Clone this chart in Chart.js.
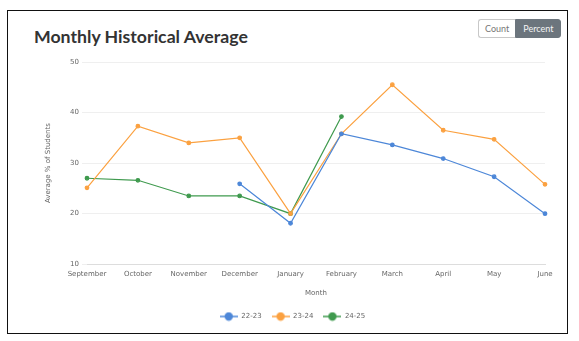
<!DOCTYPE html>
<html>
<head>
<meta charset="utf-8">
<script src="https://cdn.jsdelivr.net/npm/chart.js@4"></script>
<style>
  html, body { margin: 0; padding: 0; background: #fff; }
  #card {
    position: absolute; left: 7px; top: 10px; width: 559px; height: 322px;
    border: 1px solid #111; box-sizing: content-box; background: #fff;
  }
  #title {
    position: absolute; left: 26px; top: 15px; margin: 0;
    font: 700 17.7px Lato, sans-serif; color: #333;
  }
  #toggle { position: absolute; left: 470px; top: 8px; display: flex; font: 9px Lato, sans-serif; }
  #toggle span { display: block; height: 17px; line-height: 17px; padding: 0 6px; }
  #toggle .off { border: 1px solid #c8c8c8; border-right: none; border-radius: 3px 0 0 3px; color: #777; background: #fff; }
  #toggle .on { border: 1px solid #6c757d; border-radius: 0 3px 3px 0; color: #f4f4f4; background: #6c757d; padding: 0 7px; }
  #wrap { position: absolute; left: 1px; top: 40px; width: 559px; height: 282px; }
</style>
</head>
<body>
<div id="card">
  <h1 id="title">Monthly Historical Average</h1>
  <div id="toggle"><span class="off">Count</span><span class="on">Percent</span></div>
  <div id="wrap"><canvas id="chart"></canvas></div>
</div>
<script>
// Monatsachse und Jahrgänge
const months = ['September', 'October', 'November', 'December', 'January', 'February', 'March', 'April', 'May', 'June'];
const seriesNames = ['22-23', '23-24', '24-25'];
const seriesColors = ['#4d87d8', '#fba140', '#3f9a4e'];

const values2223 = [null, null, null, 25.9, 18.1, 35.8, 33.6, 30.9, 27.3, 20.0];
const values2324 = [25.1, 37.3, 34.0, 35.0, 20.0, 35.8, 45.5, 36.5, 34.7, 25.8];
const values2425 = [27.0, 26.6, 23.5, 23.5, 20.0, 39.2, null, null, null, null];

const yTicks = [10, 20, 30, 40, 50];

const tickFont = { family: 'DejaVu Sans', size: 7 };

// Legenden-Symbol: Linie mit Kreis
function legendIcon(color) {
  const c = document.createElement('canvas');
  c.width = 18; c.height = 10;
  const g = c.getContext('2d');
  g.strokeStyle = color; g.lineWidth = 1.5;
  g.beginPath(); g.moveTo(0, 5); g.lineTo(18, 5); g.stroke();
  g.fillStyle = color;
  g.beginPath(); g.arc(9, 5, 4.2, 0, Math.PI * 2); g.fill();
  return c;
}

const allValues = [values2223, values2324, values2425];
const datasets = allValues.map((vals, i) => ({
  label: seriesNames[i],
  data: vals,
  borderColor: seriesColors[i],
  backgroundColor: seriesColors[i],
  borderWidth: 1.2,
  pointRadius: 1.8,
  pointHoverRadius: 3,
  tension: 0,
  spanGaps: false
}));

new Chart(document.getElementById('chart'), {
  type: 'line',
  data: { labels: months, datasets: datasets },
  options: {
    responsive: true,
    maintainAspectRatio: false,
    animation: false,
    layout: { padding: { left: 31, right: 23, top: 11, bottom: 3 } },
    plugins: {
      legend: {
        position: 'bottom',
        labels: {
          usePointStyle: true,
          pointStyleWidth: 18,
          font: tickFont,
          color: '#666',
          padding: 10,
          generateLabels: chart => chart.data.datasets.map((ds, i) => ({
            text: ds.label,
            pointStyle: legendIcon(ds.borderColor),
            fillStyle: ds.borderColor,
            strokeStyle: ds.borderColor,
            lineWidth: 0,
            fontColor: '#666',
            hidden: !chart.isDatasetVisible(i),
            datasetIndex: i
          }))
        }
      },
      tooltip: { enabled: false }
    },
    scales: {
      x: {
        grid: { display: false, drawTicks: false },
        border: { color: '#ddd' },
        ticks: { font: tickFont, color: '#666', maxRotation: 0, padding: 6 },
        title: { display: true, text: 'Month', font: tickFont, color: '#666', padding: { top: 4, bottom: 6 } }
      },
      y: {
        min: 10,
        max: 50,
        afterBuildTicks: axis => { axis.ticks = yTicks.map(v => ({ value: v })); },
        afterFit: axis => { axis.width = 47; },
        grid: { color: '#efefef', tickLength: 5 },
        border: { display: false },
        ticks: { font: tickFont, color: '#666', padding: 3 },
        title: { display: true, text: 'Average % of Students', font: tickFont, color: '#666' }
      }
    }
  }
});
</script>
</body>
</html>
